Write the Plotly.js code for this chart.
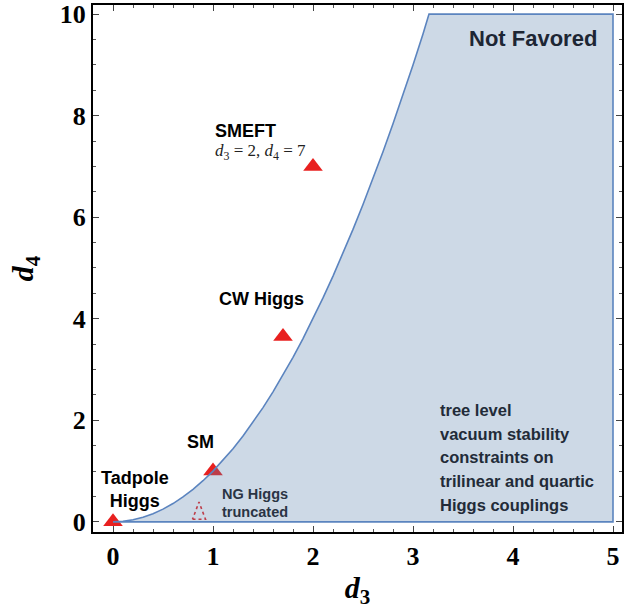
<!DOCTYPE html>
<html>
<head>
<meta charset="utf-8">
<script src="https://cdn.plot.ly/plotly-3.0.1.min.js"></script>
<style>
  html, body { margin: 0; padding: 0; background: #fff; }
  #chart { width: 641px; height: 609px; }
</style>
</head>
<body>
<div id="chart"></div>
<script>
// Benchmark Higgs potentials in the (d3, d4) plane
const modelNames = ["Tadpole Higgs", "SM", "CW Higgs", "SMEFT"];
const modelD3 = [0, 1, 1.7, 2];
const modelD4 = [0, 1, 3.65, 7];

// NG Higgs (truncated) benchmark, drawn as a dotted open triangle
const ngD3 = 0.86;
const ngD4 = 0.22;

// Boundary of the disfavoured region (tree-level vacuum stability)
const boundaryD3 = [0, 0.1, 0.2, 0.3, 0.4, 0.5, 0.6, 0.7, 0.8, 0.9, 1.0, 1.1, 1.2, 1.3, 1.4, 1.5,
                    1.6, 1.7, 1.8, 1.9, 2.0, 2.1, 2.2, 2.3, 2.4, 2.5, 2.6, 2.7, 2.8, 2.9, 3.0, 3.1, 3.16,
                    5, 5, 0];
const boundaryD4 = [0, 0.01, 0.04, 0.09, 0.16, 0.25, 0.36, 0.49, 0.64, 0.81, 1.0, 1.21, 1.44, 1.69, 1.96, 2.25,
                    2.56, 2.89, 3.24, 3.61, 4.0, 4.41, 4.84, 5.29, 5.76, 6.25, 6.76, 7.29, 7.84, 8.41, 9.0, 9.61, 10,
                    10, 0, 0];

// Axis ticks
const xTicks = [0, 1, 2, 3, 4, 5];
const yTicks = [0, 2, 4, 6, 8, 10];

// Dotted outline of the NG marker, built around its data point
const triHalfW = 0.065, triHalfH = 0.17;
const ngOutlineX = [ngD3 - triHalfW, ngD3 + triHalfW, ngD3, ngD3 - triHalfW];
const ngOutlineY = [ngD4 - triHalfH, ngD4 - triHalfH, ngD4 + triHalfH, ngD4 - triHalfH];

const red = "#e8201f";
const textDark = "#1d2634";
const sans = "Liberation Sans, Arial, sans-serif";
const serif = "Liberation Serif, Times New Roman, serif";

const traces = [
  {
    x: modelD3, y: modelD4, text: modelNames,
    mode: "markers", type: "scatter", hoverinfo: "text",
    marker: { symbol: "triangle-up", size: 17, color: red },
    showlegend: false
  },
  {
    x: ngOutlineX, y: ngOutlineY,
    mode: "lines", type: "scatter", hoverinfo: "skip",
    line: { color: red, width: 1.6, dash: "dot" },
    showlegend: false
  },
  {
    x: boundaryD3, y: boundaryD4,
    mode: "lines", type: "scatter", fill: "toself",
    fillcolor: "rgba(88,128,172,0.30)",
    line: { color: "#5b84bf", width: 1.6 },
    hoverinfo: "skip", showlegend: false
  }
];

function note(text, x, y, size, color, opts) {
  return Object.assign({
    text: text, x: x, y: y, xref: "x", yref: "y",
    showarrow: false, xanchor: "left", yanchor: "middle",
    font: { family: sans, size: size, color: color, weight: "bold" }
  }, opts || {});
}

const annotations = [
  note("Not Favored", 4.86, 9.53, 22, textDark, { xanchor: "right" }),
  note("SMEFT", 1.0, 7.70, 18, "#000"),
  note("<i>d</i><sub>3</sub> = 2, <i>d</i><sub>4</sub> = 7", 1.0, 7.28, 17, "#222",
       { font: { family: serif, size: 17, color: "#222" } }),
  note("CW Higgs", 1.04, 4.38, 18, "#000"),
  note("SM", 0.72, 1.57, 18, "#000"),
  note("Tadpole<br>Higgs", 0.22, 0.645, 18, "#000", { xanchor: "center", align: "center" }),
  note("NG Higgs", 1.065, 0.55, 14.5, "#2a3444"),
  note("truncated", 1.065, 0.19, 14.5, "#2a3444"),
  note("tree level", 3.25, 2.20, 16.5, "#222b38"),
  note("vacuum stability", 3.25, 1.74, 16.5, "#222b38"),
  note("constraints on", 3.25, 1.27, 16.5, "#222b38"),
  note("trilinear and quartic", 3.25, 0.80, 16.5, "#222b38"),
  note("Higgs couplings", 3.25, 0.33, 16.5, "#222b38")
];

const axisCommon = {
  showgrid: false, zeroline: false,
  showline: true, linecolor: "#000", linewidth: 2, mirror: "allticks",
  ticks: "inside", ticklen: 6, tickwidth: 1, tickcolor: "#444",
  tickfont: { family: serif, size: 26, color: "#000", weight: "bold" }
};

const layout = {
  width: 641, height: 609,
  margin: { l: 93, r: 19, t: 5, b: 77 },
  paper_bgcolor: "#fff", plot_bgcolor: "#fff",
  xaxis: Object.assign({}, axisCommon, {
    range: [-0.2, 5.09], tickvals: xTicks,
    minor: { dtick: 0.2, tick0: 0, ticks: "inside", ticklen: 3, tickcolor: "#555", tickwidth: 1 },
    title: { text: "<i>d</i><sub>3</sub>", standoff: 10,
             font: { family: serif, size: 30, color: "#000", weight: "bold" } }
  }),
  yaxis: Object.assign({}, axisCommon, {
    range: [-0.2, 10.18], tickvals: yTicks,
    minor: { dtick: 0.5, tick0: 0, ticks: "inside", ticklen: 3, tickcolor: "#555", tickwidth: 1 },
    title: { text: "<i>d</i><sub>4</sub>", standoff: 17,
             font: { family: serif, size: 30, color: "#000", weight: "bold" } }
  }),
  annotations: annotations
};

Plotly.newPlot("chart", traces, layout, { displayModeBar: false, staticPlot: true });
</script>
</body>
</html>
